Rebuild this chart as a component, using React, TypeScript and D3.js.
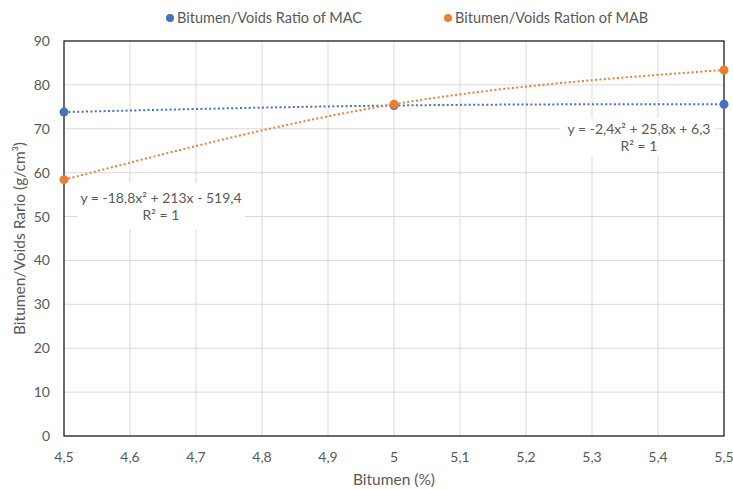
import React from "react";
import * as d3 from "d3";

const bitumen = [4.5, 5, 5.5];
const macValues = [73.8, 75.3, 75.6];
const mabValues = [58.4, 75.6, 83.4];
const xTicks = [4.5, 4.6, 4.7, 4.8, 4.9, 5, 5.1, 5.2, 5.3, 5.4, 5.5];
const yTicks = [0, 10, 20, 30, 40, 50, 60, 70, 80, 90];
const seriesNames = ["Bitumen/Voids Ratio of MAC", "Bitumen/Voids Ration of MAB"];
const macEquation = ["y = -2,4x² + 25,8x + 6,3", "R² = 1"];
const mabEquation = ["y = -18,8x² + 213x - 519,4", "R² = 1"];

const BLUE = "#4472C4";
const ORANGE = "#ED7D31";
const TEXT = "#595959";
const FONT = "Lato, 'Liberation Sans', sans-serif";

export default function App() {
  const W = 733, H = 490;
  const m = { left: 64, right: 724, top: 41, bottom: 436 };
  const x = d3.scaleLinear().domain([4.5, 5.5]).range([m.left, m.right]);
  const y = d3.scaleLinear().domain([0, 90]).range([m.bottom, m.top]);
  const fmt = (v: number) => String(Number(v.toFixed(1))).replace(".", ",");

  const line = d3
    .line<[number, number]>()
    .x((d) => x(d[0]))
    .y((d) => y(d[1]))
    .curve(d3.curveNatural);

  const mac = bitumen.map((b, i) => [b, macValues[i]] as [number, number]);
  const mab = bitumen.map((b, i) => [b, mabValues[i]] as [number, number]);

  return (
    <svg width={W} height={H} style={{ position: "absolute", left: 0, top: 0, background: "#fff" }} fontFamily={FONT}>
      <rect x={0} y={0} width={W} height={H} fill="#fff" />
      {yTicks.map((t) => (
        <line key={"gy" + t} x1={m.left} x2={m.right} y1={y(t)} y2={y(t)} stroke="#d9d9d9" strokeWidth={1} />
      ))}
      {xTicks.map((t) => (
        <line key={"gx" + t} x1={x(t)} x2={x(t)} y1={m.top} y2={m.bottom} stroke="#d9d9d9" strokeWidth={1} />
      ))}
      <rect x={560} y={118} width={155} height={38} fill="#fff" />
      <rect x={77} y={183} width={168} height={46} fill="#fff" />
      <rect x={m.left} y={m.top} width={m.right - m.left} height={m.bottom - m.top} fill="none" stroke="#262626" strokeWidth={1.3} />
      <path d={line(mac) || ""} fill="none" stroke={BLUE} strokeWidth={2} strokeDasharray="2 2.4" />
      <path d={line(mab) || ""} fill="none" stroke={ORANGE} strokeWidth={2} strokeDasharray="2 2.4" />
      {mac.map((d, i) => (
        <circle key={"mc" + i} cx={x(d[0])} cy={y(d[1])} r={4.5} fill={BLUE} />
      ))}
      {mab.map((d, i) => (
        <circle key={"mb" + i} cx={x(d[0])} cy={y(d[1])} r={4.5} fill={ORANGE} />
      ))}
      <text x={639} y={134} textAnchor="middle" fontSize={14} fill={TEXT}>{macEquation[0]}</text>
      <text x={639} y={151} textAnchor="middle" fontSize={14} fill={TEXT}>{macEquation[1]}</text>
      <text x={161} y={203} textAnchor="middle" fontSize={14} fill={TEXT}>{mabEquation[0]}</text>
      <text x={161} y={220} textAnchor="middle" fontSize={14} fill={TEXT}>{mabEquation[1]}</text>
      {yTicks.map((t) => (
        <text key={"ty" + t} x={50} y={y(t) + 5} textAnchor="end" fontSize={14} fill={TEXT}>{t}</text>
      ))}
      {xTicks.map((t) => (
        <text key={"tx" + t} x={x(t)} y={462} textAnchor="middle" fontSize={14} fill={TEXT}>{fmt(t)}</text>
      ))}
      <text x={394} y={485} textAnchor="middle" fontSize={15.5} fill={TEXT}>Bitumen (%)</text>
      <text transform={`translate(25, ${(m.top + m.bottom) / 2}) rotate(-90)`} textAnchor="middle" fontSize={15.5} fill={TEXT}>
        Bitumen/Voids Rario (g/cm³)
      </text>
      <circle cx={170} cy={18} r={4} fill={BLUE} />
      <text x={177} y={23} fontSize={14.5} fill={TEXT}>{seriesNames[0]}</text>
      <circle cx={448} cy={18} r={4} fill={ORANGE} />
      <text x={455} y={23} fontSize={14.5} fill={TEXT}>{seriesNames[1]}</text>
    </svg>
  );
}
